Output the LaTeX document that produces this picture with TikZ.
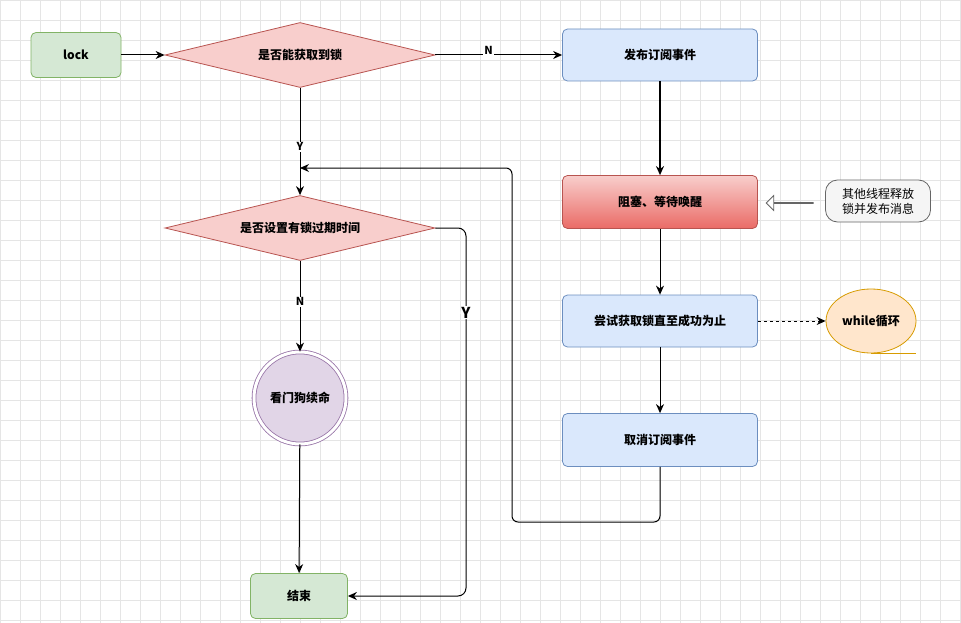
\documentclass[tikz,border=0pt]{standalone}
\usepackage{fontspec}
\setmainfont{Noto Sans CJK SC}
\usetikzlibrary{arrows.meta,shapes.geometric,shapes.arrows}
\definecolor{bfill}{HTML}{DAE8FC}\definecolor{bline}{HTML}{6C8EBF}
\definecolor{gfill}{HTML}{D5E8D4}\definecolor{gline}{HTML}{82B366}
\definecolor{rfill}{HTML}{F8CECC}\definecolor{rline}{HTML}{B85450}
\definecolor{rdark}{HTML}{EA6B66}
\definecolor{pfill}{HTML}{E1D5E7}\definecolor{pline}{HTML}{9673A6}
\definecolor{ofill}{HTML}{FFE6CC}\definecolor{oline}{HTML}{D79B00}
\begin{document}
\begin{tikzpicture}[x=1pt,y=-1pt,font=\fontsize{12}{14}\selectfont\bfseries,
 box/.style={draw=#1, rounded corners=5pt, line width=0.8pt, minimum width=195pt, minimum height=52pt, inner sep=2pt},
 dia/.style={diamond, aspect=4.15, draw=rline, fill=rfill, line width=0.8pt, minimum width=270pt, minimum height=65pt, inner sep=0pt},
 conn/.style={-{Stealth[length=9pt,width=8pt]}, line width=1pt},
 lab/.style={fill=white, inner sep=1pt, font=\fontsize{11}{12}\selectfont\bfseries}]
\fill[white] (0,0) rectangle (961,623);
\useasboundingbox (0,0) rectangle (961,623);
\foreach \i in {0,20,...,960} \draw[black!10, line width=0.5pt] (\i,0) -- (\i,623);
\foreach \j in {0,20,...,620} \draw[black!10, line width=0.5pt] (0,\j) -- (961,\j);
\node[box=gline, fill=gfill, minimum width=90pt, minimum height=45pt] (lock) at (76,55) {lock};
\node[dia] (d1) at (300,55) {是否能获取到锁};
\node[box=bline, fill=bfill] (pub) at (660,55) {发布订阅事件};
\node[box=rline, top color=rfill, bottom color=rdark, minimum height=53pt] (blk) at (660,202) {阻塞、等待唤醒};
\node[draw=black!60, line width=0.8pt, rounded corners=12pt, fill=black!4, minimum width=105pt, minimum height=42pt, align=center, inner sep=1pt, font=\fontsize{12}{15}\selectfont] (msg) at (878,201) {其他线程释放\\锁并发布消息};
\node[single arrow, shape border rotate=180, draw=black!60, line width=0.8pt, fill=white, minimum height=47pt, minimum width=14pt, single arrow head extend=7pt, inner sep=0pt] (arr) at (790,203) {};
\node[box=bline, fill=bfill] (try) at (660,321) {尝试获取锁直至成功为止};
\node[ellipse, draw=oline, line width=0.8pt, fill=ofill, minimum width=90pt, minimum height=64pt, inner sep=0pt] (wh) at (871,321) {while循环};
\draw[oline, line width=1pt] (871,353) -- (916,353);
\node[box=bline, fill=bfill, minimum height=53pt] (cnl) at (660,440) {取消订阅事件};
\node[dia] (d2) at (300,228) {是否设置有锁过期时间};
\node[circle, double, double distance=3pt, draw=pline, line width=0.8pt, fill=pfill, minimum size=92pt, inner sep=0pt] (wd) at (300,398) {看门狗续命};
\node[box=gline, fill=gfill, minimum width=97pt, minimum height=45pt] (end) at (299,596) {结束};
\coordinate (m1) at (300,168);
\draw[conn] (lock) -- (d1);
\draw[conn] (d1) -- node[lab, pos=0.42, yshift=5pt] {N} (pub);
\draw[conn, line width=2pt] (pub) -- (blk);
\draw[conn] (d1) -- node[lab, pos=0.55] {Y} (d2);
\draw[conn] (blk) -- (try);
\draw[conn, dashed] (try) -- (wh);
\draw[conn] (try) -- (cnl);
\draw[conn, rounded corners=6pt] (cnl.south) -- (660,522) -- (512,522) -- (512,168) -- (m1);
\draw[conn, rounded corners=8pt] (d2.east) -- (466,228) -- node[lab, pos=0.23, font=\fontsize{15}{16}\selectfont\bfseries] {Y} (466,596) -- (end.east);
\draw[conn] (d2) -- node[lab, pos=0.45] {N} (wd);
\draw[conn] (wd) -- (end);
\end{tikzpicture}
\end{document}
